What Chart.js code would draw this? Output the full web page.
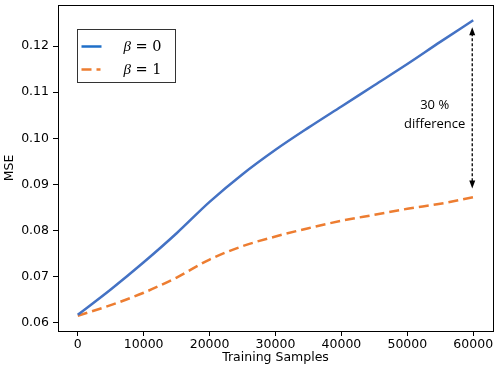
<!DOCTYPE html>
<html>
<head>
<meta charset="utf-8">
<script src="https://cdn.jsdelivr.net/npm/chart.js@4"></script>
<style>
  html, body { margin: 0; padding: 0; background: #fff; }
  #wrap { width: 498px; height: 370px; }
</style>
</head>
<body>
<div id="wrap"><canvas id="mseChart" width="498" height="370"></canvas></div>
<script>
// training sample counts
const samples = [0, 5000, 10000, 15000, 20000, 25000, 30000, 35000, 40000, 45000, 50000, 55000, 60000];
// MSE for beta = 0 and beta = 1
const mseBeta0 = [0.0617, 0.0672, 0.0731, 0.0794, 0.0862, 0.0922, 0.0975, 0.1023, 0.1069, 0.1115, 0.1161, 0.1209, 0.1256];
const mseBeta1 = [0.0615, 0.0638, 0.0665, 0.0698, 0.0737, 0.0766, 0.0787, 0.0805, 0.0821, 0.0834, 0.0847, 0.0858, 0.0872];

const xTicks = [0, 10000, 20000, 30000, 40000, 50000, 60000];
const yTicks = [0.06, 0.07, 0.08, 0.09, 0.10, 0.11, 0.12];

const seriesLabels = ['0', '1'];
// annotation: arrow between the two curves at the last sample
const arrowX = 59850;
const arrowTop = 0.1241;
const arrowBottom = 0.0891;
const noteLines = ['30 %', 'difference'];
const noteX = 54150;
const noteY = [0.1072, 0.1031];

const blue = '#4472c4';
const orange = '#ed7d31';
const tickFont = '12.5px "DejaVu Sans"';

function toPoints(ys) {
    return samples.map((x, i) => ({ x: x, y: ys[i] }));
}

// frame, legend, arrow and axis titles
const extras = {
    id: 'extras',
    afterDraw(chart) {
        const ctx = chart.ctx;
        const a = chart.chartArea;
        const xs = chart.scales.x;
        const ys = chart.scales.y;
        ctx.save();

        // box around plot
        ctx.strokeStyle = '#000';
        ctx.lineWidth = 1;
        ctx.strokeRect(Math.round(a.left) + 0.5, Math.round(a.top) + 0.5, Math.round(a.right - a.left), Math.round(a.bottom - a.top));

        // dashed double arrow
        const ax = xs.getPixelForValue(arrowX);
        const y1 = ys.getPixelForValue(arrowTop);
        const y2 = ys.getPixelForValue(arrowBottom);
        ctx.setLineDash([3, 2]);
        ctx.lineWidth = 1.3;
        ctx.beginPath();
        ctx.moveTo(ax, y1 + 6);
        ctx.lineTo(ax, y2 - 6);
        ctx.stroke();
        ctx.setLineDash([]);
        ctx.fillStyle = '#000';
        ctx.beginPath();
        ctx.moveTo(ax, y1);
        ctx.lineTo(ax - 3, y1 + 8);
        ctx.lineTo(ax + 3, y1 + 8);
        ctx.closePath();
        ctx.fill();
        ctx.beginPath();
        ctx.moveTo(ax, y2);
        ctx.lineTo(ax - 3, y2 - 8);
        ctx.lineTo(ax + 3, y2 - 8);
        ctx.closePath();
        ctx.fill();

        // note text
        ctx.font = '13px "Open Sans"';
        ctx.textAlign = 'center';
        ctx.textBaseline = 'middle';
        noteLines.forEach((t, i) => {
            ctx.fillText(t, xs.getPixelForValue(noteX), ys.getPixelForValue(noteY[i]));
        });

        // legend
        const lx = a.left + 19.5, ly = a.top + 24.5;
        ctx.fillStyle = '#fff';
        ctx.fillRect(lx, ly, 98, 53);
        ctx.strokeStyle = '#333';
        ctx.lineWidth = 1;
        ctx.strokeRect(lx, ly, 98, 53);
        const rows = [{ c: '#1f6fc8', dash: [] }, { c: orange, dash: [10, 5, 4, 50] }];
        rows.forEach((r, i) => {
            const yy = ly + 17 + i * 23;
            ctx.strokeStyle = r.c;
            ctx.lineWidth = 2.5;
            ctx.setLineDash(r.dash);
            ctx.beginPath();
            ctx.moveTo(lx + 4, yy);
            ctx.lineTo(lx + 24, yy);
            ctx.stroke();
            ctx.setLineDash([]);
            ctx.fillStyle = '#000';
            ctx.textAlign = 'left';
            ctx.textBaseline = 'middle';
            ctx.font = 'italic 15px "Liberation Serif"';
            ctx.fillText('\u03b2', lx + 46, yy + 1);
            ctx.font = '14.5px "DejaVu Serif"';
            ctx.fillText('= ' + seriesLabels[i], lx + 58, yy + 1);
        });

        // axis titles
        ctx.fillStyle = '#000';
        ctx.font = tickFont;
        ctx.textAlign = 'center';
        ctx.textBaseline = 'middle';
        ctx.fillText('Training Samples', (a.left + a.right) / 2, 358);
        ctx.translate(10, (a.top + a.bottom) / 2);
        ctx.rotate(-Math.PI / 2);
        ctx.fillText('MSE', 0, 0);
        ctx.restore();
    }
};

new Chart(document.getElementById('mseChart').getContext('2d'), {
    type: 'line',
    data: {
        datasets: [{
            label: 'beta = 0',
            data: toPoints(mseBeta0),
            borderColor: blue,
            borderWidth: 2.5,
            pointRadius: 0,
            fill: false,
            cubicInterpolationMode: 'monotone'
        }, {
            label: 'beta = 1',
            data: toPoints(mseBeta1),
            borderColor: orange,
            borderWidth: 2.5,
            borderDash: [10, 5],
            pointRadius: 0,
            fill: false,
            cubicInterpolationMode: 'monotone'
        }]
    },
    options: {
        responsive: false,
        animation: false,
        layout: { padding: { top: 5, right: 5, left: 0, bottom: 0 } },
        plugins: { legend: { display: false }, tooltip: { enabled: false } },
        scales: {
            x: {
                type: 'linear',
                min: -3000,
                max: 63000,
                afterBuildTicks: s => { s.ticks = xTicks.map(v => ({ value: v })); },
                afterFit: s => { s.height = 39; s.paddingLeft = 0; s.paddingRight = 0; },
                grid: { drawOnChartArea: false, drawTicks: true, tickLength: 5, color: '#000' },
                border: { display: false },
                ticks: { color: '#000', font: { family: 'DejaVu Sans', size: 12.5 }, padding: 1, maxRotation: 0, callback: v => String(v) }
            },
            y: {
                min: 0.0582,
                max: 0.1289,
                afterBuildTicks: s => { s.ticks = yTicks.map(v => ({ value: v })); },
                afterFit: s => { s.width = 58; s.paddingTop = 0; s.paddingBottom = 0; },
                grid: { drawOnChartArea: false, drawTicks: true, tickLength: 5, color: '#000' },
                border: { display: false },
                ticks: { color: '#000', font: { family: 'DejaVu Sans', size: 12.5 }, padding: 4, callback: v => v.toFixed(2) }
            }
        }
    },
    plugins: [extras]
});
</script>
</body>
</html>
